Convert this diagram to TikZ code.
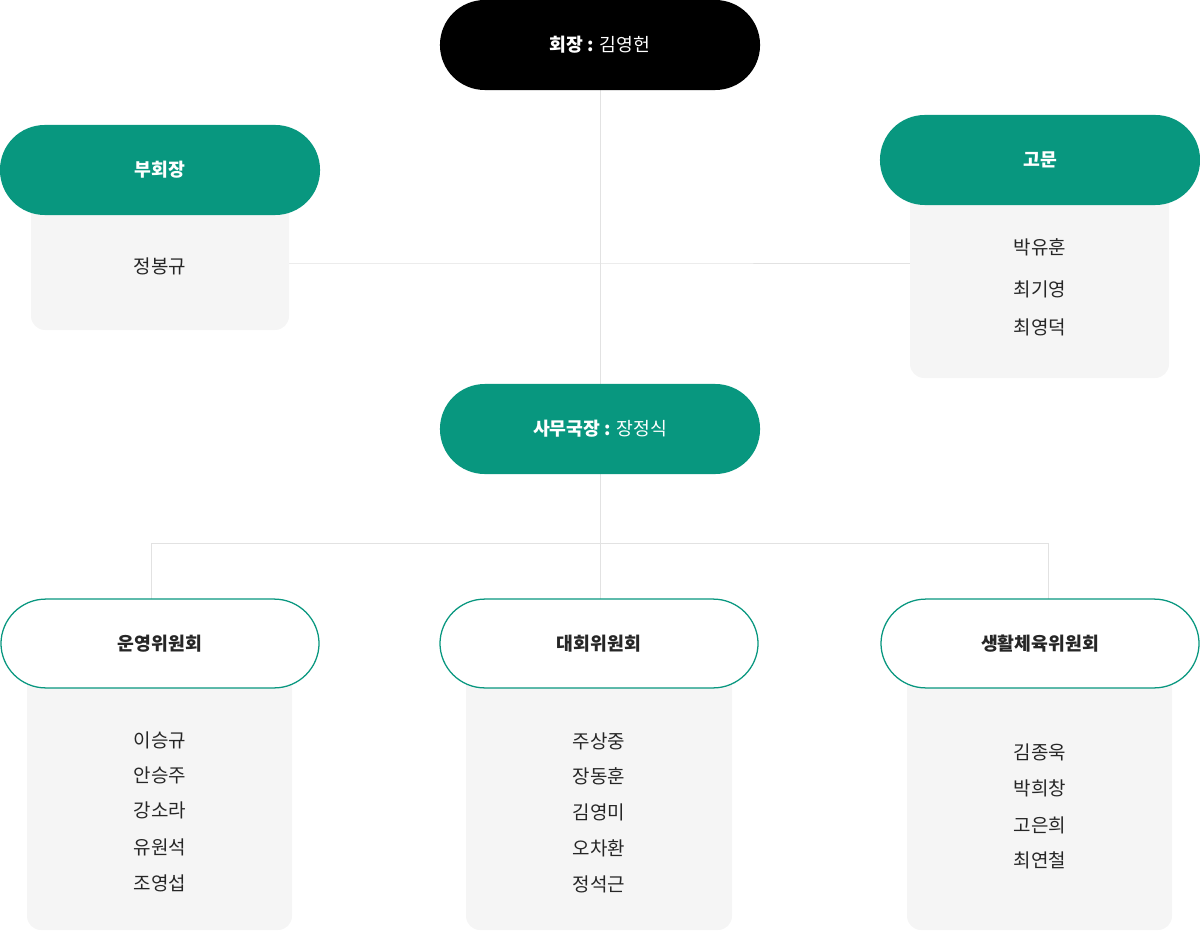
\documentclass[tikz,border=0pt]{standalone}
\usepackage{fontspec}
\setmainfont{Noto Sans CJK KR}
\definecolor{teal}{HTML}{08977F}
\definecolor{boxgray}{HTML}{F5F5F5}
\definecolor{linegray}{HTML}{E2E2E2}
\tikzset{
  pill/.style={rounded corners=1.12cm, minimum width=8cm, minimum height=2.25cm, inner sep=0, font=\fontsize{13pt}{15pt}\selectfont},
  darkpill/.style={pill, fill=black, text=white},
  tealpill/.style={pill, fill=teal, text=white},
  linepill/.style={pill, fill=white, draw=teal, line width=0.9pt, minimum width=7.95cm, minimum height=2.22cm, text=black!85},
  namebox/.style={fill=boxgray, rounded corners=0.35cm, draw=none, inner sep=0},
  member/.style={font=\fontsize{13.5pt}{16pt}\selectfont, text=black!85},
  link/.style={draw=linegray, line width=0.6pt}
}
\begin{document}
\begin{tikzpicture}[x=0.025cm,y=-0.025cm]
\useasboundingbox (0,0) rectangle (1200,931);

% name boxes
\fill[namebox] (31,190) rectangle (289,330);
\fill[namebox] (910,180) rectangle (1169,378);
\fill[namebox] (27,660) rectangle (292,930);
\fill[namebox] (466,660) rectangle (732,930);
\fill[namebox] (907,660) rectangle (1172,930);

% connectors
\coordinate (hubA) at (600,263);
\coordinate (hubB) at (600,543);
\coordinate (leftB) at (151,543);
\coordinate (rightB) at (1048,543);
\draw[link] (600,90) -- (600,384);
\draw[link] (289,263) -- (hubA) -- (910,263);
\draw[link] (600,474) -- (hubB) -- (600,599);
\draw[link] (151,599) -- (leftB) -- (rightB) -- (1048,599);

\node[darkpill] (chair) at (600,45) {\textbf{회장 :} 김영헌};
\node[tealpill] (vice) at (160,170) {\textbf{부회장}};
\node[tealpill] (advisor) at (1040,160) {\textbf{고문}};
\node[tealpill] (secretary) at (600,429) {\textbf{사무국장 :} 장정식};
\node[linepill] (opcom) at (160,643.5) {\textbf{운영위원회}};
\node[linepill] (gamecom) at (599,643.5) {\textbf{대회위원회}};
\node[linepill] (sportcom) at (1040,643.5) {\textbf{생활체육위원회}};

% names
\node[member] (vice1) at (160,266) {정봉규};
\foreach \n/\y in {박유훈/247, 최기영/289, 최영덕/327}
  \node[member] at (1040,\y) {\n};
\foreach \n/\y in {이승규/740, 안승주/775, 강소라/810, 유원석/847, 조영섭/883}
  \node[member] at (160,\y) {\n};
\foreach \n/\y in {주상중/741, 장동훈/776, 김영미/812, 오차환/848, 정석근/884}
  \node[member] at (599,\y) {\n};
\foreach \n/\y in {김종욱/752, 박희창/788, 고은희/825, 최연철/860}
  \node[member] at (1040,\y) {\n};
\end{tikzpicture}
\end{document}
